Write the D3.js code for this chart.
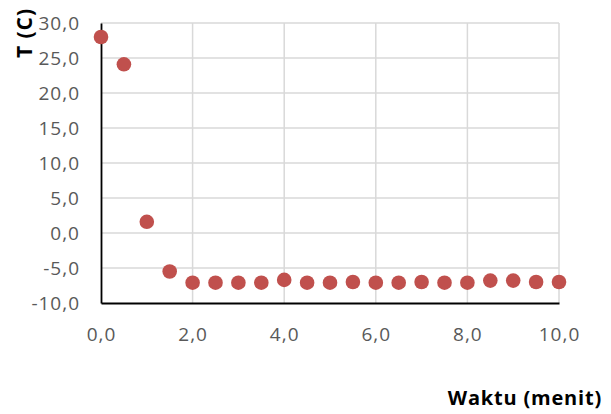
<!DOCTYPE html>
<html>
<head>
<meta charset="utf-8">
<script src="https://cdn.jsdelivr.net/npm/d3@7/dist/d3.min.js"></script>
<style>
html,body{margin:0;padding:0;background:#fff;}
svg{display:block;}
</style>
</head>
<body>
<svg id="chart" width="611" height="414"></svg>
<script>
const xValues = [0, 0.5, 1, 1.5, 2, 2.5, 3, 3.5, 4, 4.5, 5, 5.5, 6, 6.5, 7, 7.5, 8, 8.5, 9, 9.5, 10];
const yValues = [28.0, 24.1, 1.6, -5.5, -7.1, -7.1, -7.1, -7.1, -6.7, -7.1, -7.1, -7.0, -7.1, -7.1, -7.0, -7.1, -7.1, -6.8, -6.8, -7.0, -7.0];
const xTicks = [0, 2, 4, 6, 8, 10];
const yTicks = [-10, -5, 0, 5, 10, 15, 20, 25, 30];
const xTitle = "Waktu (menit)";
const yTitle = "T (C)";

const svg = d3.select("#chart");
const m = {left: 101, right: 611 - 559, top: 23, bottom: 414 - 303};
const W = 611, H = 414;
const x = d3.scaleLinear().domain([0, 10]).range([m.left, W - m.right]);
const y = d3.scaleLinear().domain([-10, 30]).range([H - m.bottom, m.top]);
const fmt = v => d3.format(".1f")(v).replace(".", ",").replace("−", "-");
const font = "'Open Sans', 'Liberation Sans', sans-serif";

// gridlines
const grid = svg.append("g");
grid.selectAll("line.h").data(yTicks.filter(d => d !== -10)).join("line")
  .attr("x1", x(0)).attr("x2", x(10)).attr("y1", d => y(d)).attr("y2", d => y(d))
  .attr("stroke", "#d9d9d9").attr("stroke-width", 1.5);
grid.selectAll("line.v").data(xTicks.filter(d => d !== 0)).join("line")
  .attr("y1", y(-10)).attr("y2", y(30)).attr("x1", d => x(d)).attr("x2", d => x(d))
  .attr("stroke", "#d9d9d9").attr("stroke-width", 1.5);

// axes
const yAxis = svg.append("g").attr("transform", `translate(${m.left},0)`)
  .call(d3.axisLeft(y).tickValues(yTicks).tickFormat(fmt).tickSize(0).tickPadding(21));
const xAxis = svg.append("g").attr("transform", `translate(0,${H - m.bottom})`)
  .call(d3.axisBottom(x).tickValues(xTicks).tickFormat(fmt).tickSize(0).tickPadding(25));
[yAxis, xAxis].forEach(a => {
  a.select(".domain").attr("stroke", "#000").attr("stroke-width", 1.8);
  a.selectAll("text").attr("fill", "#595959").style("font-family", font)
    .style("font-size", "19px").style("letter-spacing", "1px");
});

// points
svg.append("g").selectAll("circle").data(xValues.map((v, i) => [v, yValues[i]])).join("circle")
  .attr("cx", d => x(d[0])).attr("cy", d => y(d[1])).attr("r", 7.3)
  .attr("fill", "#c0504d");

// titles
svg.append("text").attr("x", 602).attr("y", 405).attr("text-anchor", "end")
  .style("font-family", font).style("font-weight", "bold").style("font-size", "20px")
  .style("letter-spacing", "0.8px")
  .attr("fill", "#000").text(xTitle);
svg.append("text").attr("transform", "translate(32,33) rotate(-90)").attr("text-anchor", "middle")
  .style("font-family", font).style("font-weight", "bold").style("font-size", "21px")
  .style("letter-spacing", "1px")
  .attr("fill", "#000").text(yTitle);
</script>
</body>
</html>
